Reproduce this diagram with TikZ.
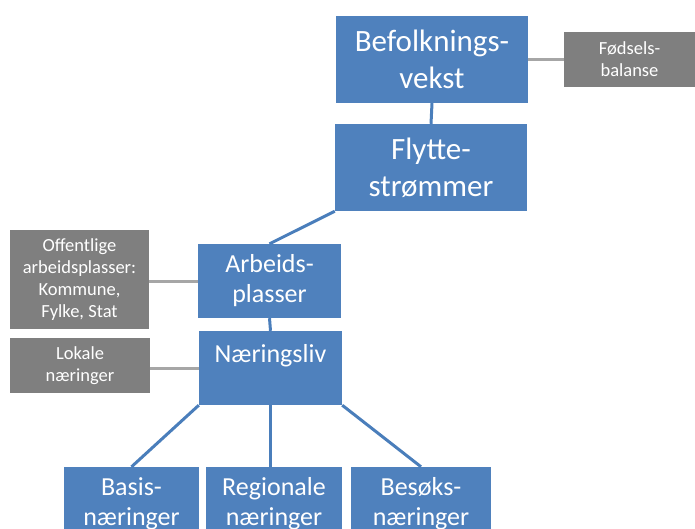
\documentclass[tikz,border=0pt]{standalone}
\usepackage{fontspec}
\setmainfont{Carlito}
\definecolor{boxblue}{HTML}{4F81BD}
\definecolor{boxgray}{HTML}{7F7F7F}
\definecolor{linegray}{HTML}{A6A6A6}
\definecolor{lineblue}{HTML}{4A7EBB}
\begin{document}
\begin{tikzpicture}[x=1pt,y=-1pt,
  bluebox/.style={fill=boxblue,text=white,inner sep=0pt,align=center},
  graybox/.style={fill=boxgray,text=white,inner sep=0pt,align=center},
  big/.style={font=\fontsize{31}{37}\selectfont},
  mid/.style={font=\fontsize{26}{30}\selectfont},
  small/.style={font=\fontsize{18.5}{22}\selectfont},
  blueline/.style={draw=lineblue,line width=3pt},
  grayline/.style={draw=linegray,line width=3pt}]
\useasboundingbox (0,0) rectangle (695,529);
\clip (0,0) rectangle (695,529);
\node[bluebox,big,minimum width=192,minimum height=87] (bef) at (432,59.5) {Befolknings-\\vekst};
\node[bluebox,big,minimum width=192,minimum height=87] (fly) at (431,167.5) {Flytte-\\strømmer};
\node[graybox,small,minimum width=131,minimum height=55] (fod) at (629.5,59.5) {Fødsels-\\balanse};
\node[graybox,small,minimum width=139,minimum height=99] (off) at (79.5,279.5) {Offentlige\\arbeidsplasser:\\Kommune,\\Fylke, Stat};
\node[bluebox,mid,minimum width=143,minimum height=74] (arb) at (269.5,281) {Arbeids-\\plasser};
\node[graybox,small,minimum width=140,minimum height=55] (lok) at (80,365.5) {Lokale\\næringer};
\node[bluebox,mid,minimum width=143,minimum height=74] (nar) at (270.5,368) {Næringsliv\\\mbox{}};
\node[bluebox,mid,minimum width=135,minimum height=74] (bas) at (131.5,504) {Basis-\\næringer};
\node[bluebox,mid,minimum width=136,minimum height=74] (reg) at (274,504) {Regionale\\næringer};
\node[bluebox,mid,minimum width=140,minimum height=74] (bes) at (421,504) {Besøks-\\næringer};
\draw[grayline] (bef.east) -- (fod.west);
\draw[grayline] (off.east |- arb.west) -- (arb.west);
\draw[grayline] (lok.east |- nar.west) -- (nar.west);
\draw[blueline] (bef.south) -- (fly.north);
\draw[blueline] (fly.south west) -- (arb.north);
\draw[blueline] (arb.south) -- (nar.north);
\draw[blueline] (nar.south west) -- (bas.north);
\draw[blueline] (nar.south) -- (nar.south |- reg.north);
\draw[blueline] (nar.south east) -- (bes.north);
\end{tikzpicture}
\end{document}
